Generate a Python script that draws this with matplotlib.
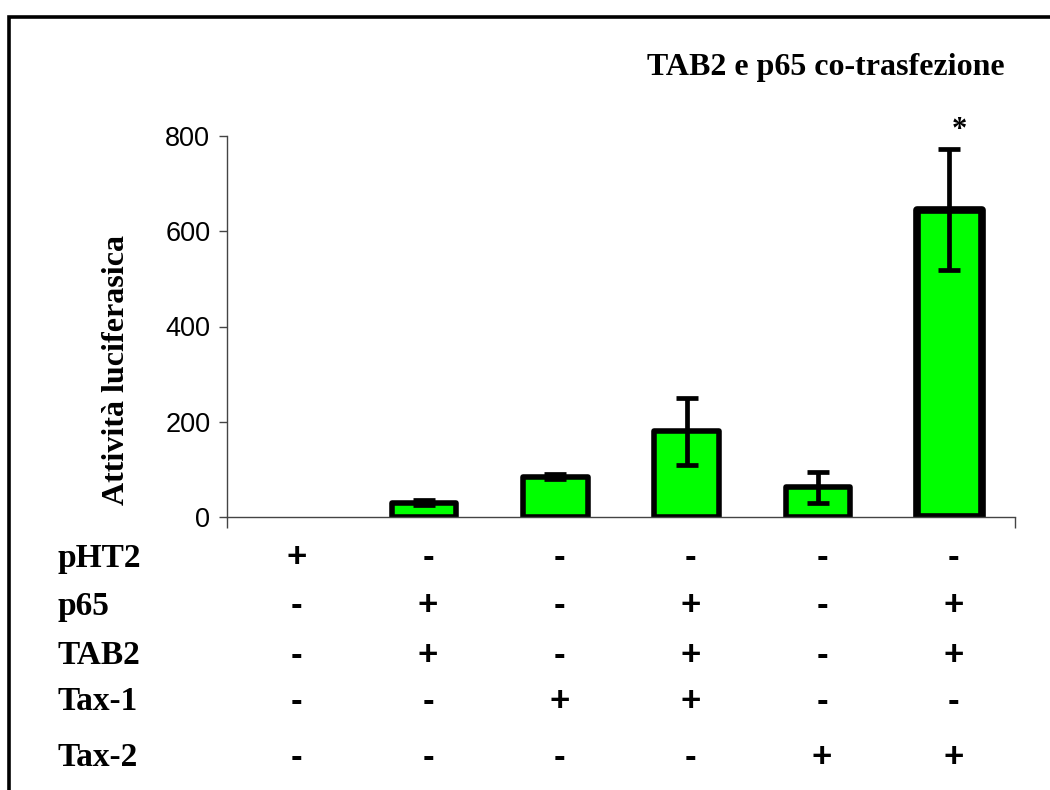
import numpy as np
import matplotlib
matplotlib.use("Agg")
import matplotlib.pyplot as plt
from matplotlib.patches import Rectangle
from matplotlib.transforms import blended_transform_factory

# values
conditions = ["pHT2", "p65", "TAB2", "Tax-1", "Tax-2"]
signs = [
    ["+", "-", "-", "-", "-", "-"],
    ["-", "+", "-", "+", "-", "+"],
    ["-", "+", "-", "+", "-", "+"],
    ["-", "-", "+", "+", "-", "-"],
    ["-", "-", "-", "-", "+", "+"],
]
activity = [0, 30, 85, 180, 62, 645]
errors = [0, 5, 5, 70, 32, 127]
yticks = [0, 200, 400, 600, 800]

serif = "Liberation Serif"
sans = "Liberation Sans"

fig = plt.figure(figsize=(10.5, 7.9), dpi=100)
W, H = 1050, 790

# frame around the whole picture (cut off at right/bottom)
fig.patches.append(Rectangle((9 / W, -0.1), 1.2, 1 - 17 / H + 0.1,
                             transform=fig.transFigure, fill=False,
                             edgecolor="black", linewidth=2.6))

ax = fig.add_axes([227 / W, 1 - 517 / H, (1015 - 227) / W, (517 - 136) / H])

x = np.arange(len(activity))
lws = [4.0] * 5 + [5.5]
bars = ax.bar(x, activity, width=0.49, color="#00ff00", edgecolor="black",
              linewidth=lws, zorder=2)
for b, v in zip(bars, activity):
    b.set_joinstyle("round")
    if v == 0:
        b.set_visible(False)

nz = [i for i, v in enumerate(activity) if v > 0]
ax.errorbar(x[nz], np.array(activity)[nz], yerr=np.array(errors)[nz],
            fmt="none", ecolor="black", elinewidth=3.4, capsize=8,
            capthick=3.4, zorder=3)

ax.annotate("*", xy=(5, activity[5] + errors[5]), xytext=(7, 3),
            textcoords="offset points", ha="center", va="bottom",
            fontsize=22, fontweight="bold", family=serif)

ax.set_xlim(-0.5, 5.5)
ax.set_ylim(0, 800)
ax.set_yticks(yticks)
ax.set_yticklabels([str(t) for t in yticks], fontsize=19.5, family=sans)
ax.set_xticks([-0.5, 5.5])
ax.set_xticklabels([])
ax.tick_params(axis="y", direction="out", length=6, width=1, color="#444444", pad=6)
ax.tick_params(axis="x", direction="out", length=8, width=1, color="#444444")
for s in ["top", "right"]:
    ax.spines[s].set_visible(False)
for s in ["left", "bottom"]:
    ax.spines[s].set_color("#444444")
    ax.spines[s].set_linewidth(1)

fig.text(1005 / W, 1 - 68 / H, "TAB2 e p65 co-trasfezione", ha="right",
         va="center", fontsize=23, fontweight="bold", family=serif)
fig.text(117 / W, 1 - 370 / H, "Attività luciferasica", rotation=90,
         ha="center", va="center", fontsize=23, fontweight="bold", family=serif)

# table of +/- below the axis
row_y = [558, 606, 655, 702, 758]
trans = blended_transform_factory(ax.transData, fig.transFigure)
for name, yy, row in zip(conditions, row_y, signs):
    fig.text(57 / W, 1 - yy / H, name, ha="left", va="center",
             fontsize=24, fontweight="bold", family=serif)
    for i, s in enumerate(row):
        ax.text(x[i] + 0.03, 1 - yy / H, s, transform=trans, ha="center",
                va="center", fontsize=25, fontweight="bold", family=sans,
                clip_on=False)

fig.savefig("out.png", dpi=100)
